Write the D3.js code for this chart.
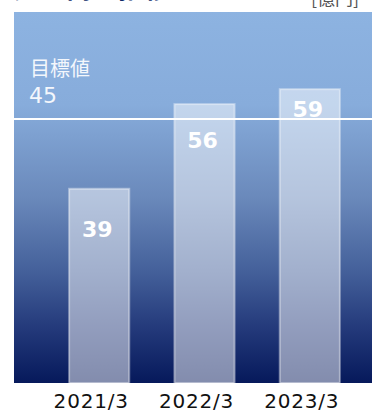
<!DOCTYPE html>
<html>
<head>
<meta charset="utf-8">
<script src="https://cdn.jsdelivr.net/npm/d3@7"></script>
<style>
  html, body { margin: 0; padding: 0; background: #fff; overflow: hidden; }
  text { font-family: "DejaVu Sans", Verdana, sans-serif; }
</style>
</head>
<body>
<svg class="chart"></svg>
<script>
const WIDTH = 372;
const HEIGHT = 412;

// data
const periods = ['2021/3', '2022/3', '2023/3'];
const values = [39, 56, 59];
const targetLabel = '目標値';
const targetValue = 45;
const targetLineLevel = 53; // where the line sits against the bar scale in the picture
const unitLabel = '[億円]';
const titleText = '売上高の推移';

const PANEL = { left: 14, top: 12, right: 372, bottom: 383 };

const svg = d3.select('.chart')
  .attr('width', WIDTH)
  .attr('height', HEIGHT);

// background gradient
const grad = svg.append('defs')
  .append('linearGradient')
  .attr('id', 'bg')
  .attr('x1', 0).attr('y1', 0)
  .attr('x2', 0).attr('y2', 1);
[
  [0, '#8db3e1'],
  [0.25, '#87acdb'],
  [0.5, '#6a89bb'],
  [0.7, '#44609a'],
  [0.85, '#243a7b'],
  [1, '#06195b'],
].forEach(([o, c]) => grad.append('stop').attr('offset', o).attr('stop-color', c));

svg.append('rect')
  .attr('x', PANEL.left)
  .attr('y', PANEL.top)
  .attr('width', PANEL.right - PANEL.left)
  .attr('height', PANEL.bottom - PANEL.top)
  .style('fill', 'url(#bg)');

// title (mostly cut off at the top) and unit
svg.append('text')
  .attr('x', PANEL.left)
  .attr('y', -2)
  .style('font-family', '"Noto Sans CJK JP", sans-serif')
  .style('font-weight', 'bold')
  .style('font-size', '26px')
  .style('fill', '#0b2a66')
  .text(titleText);

svg.append('text')
  .attr('x', 311)
  .attr('y', 5)
  .style('font-family', '"Noto Sans CJK JP", sans-serif')
  .style('font-size', '18px')
  .style('fill', '#555')
  .text(unitLabel);

// scales
const x = d3.scaleBand()
  .domain(periods)
  .range([26, 383])
  .paddingInner(0.41)
  .paddingOuter(0.4);

const y = d3.scaleLinear()
  .domain([0, 60])
  .range([PANEL.bottom, PANEL.bottom - 60 * 4.98]);

const rows = periods.map((p, i) => ({ period: p, value: values[i] }));
const labelOffsets = [48, 44, 28];

// bars
svg.append('g')
  .selectAll('rect')
  .data(rows)
  .join('rect')
  .attr('x', (d) => x(d.period) + 1)
  .attr('y', (d) => y(d.value))
  .attr('width', x.bandwidth() - 2)
  .attr('height', (d) => y(0) - y(d.value))
  .style('fill', 'rgba(255,255,255,0.5)')
  .style('stroke', 'rgba(255,255,255,0.4)')
  .style('stroke-width', 2);

// target line
svg.append('line')
  .attr('x1', PANEL.left)
  .attr('x2', PANEL.right)
  .attr('y1', y(targetLineLevel))
  .attr('y2', y(targetLineLevel))
  .style('stroke', '#fff')
  .style('stroke-width', 2);

svg.append('text')
  .attr('x', 30)
  .attr('y', 76)
  .style('font-family', '"Noto Sans CJK JP", sans-serif')
  .style('font-size', '20px')
  .style('fill', '#f4f7fc')
  .text(targetLabel);

svg.append('text')
  .attr('x', 29)
  .attr('y', 103)
  .style('font-size', '22px')
  .style('fill', '#f4f7fc')
  .text(targetValue);

// value labels
svg.append('g')
  .selectAll('text')
  .data(rows)
  .join('text')
  .attr('x', (d) => x(d.period) + x.bandwidth() / 2 - 2)
  .attr('y', (d, i) => y(d.value) + labelOffsets[i])
  .attr('text-anchor', 'middle')
  .style('font-weight', 'bold')
  .style('font-size', '22px')
  .style('fill', '#fff')
  .text((d) => d.value);

// x axis
const axis = svg.append('g')
  .attr('transform', `translate(-8,${PANEL.bottom})`)
  .call(d3.axisBottom(x).tickSize(0).tickPadding(11));
axis.select('.domain').remove();
axis.selectAll('text')
  .attr('dy', '0.71em')
  .style('font-family', '"DejaVu Sans", Verdana, sans-serif')
  .style('font-size', '20px')
  .style('letter-spacing', '0.8px')
  .style('fill', '#111');
</script>
</body>
</html>
